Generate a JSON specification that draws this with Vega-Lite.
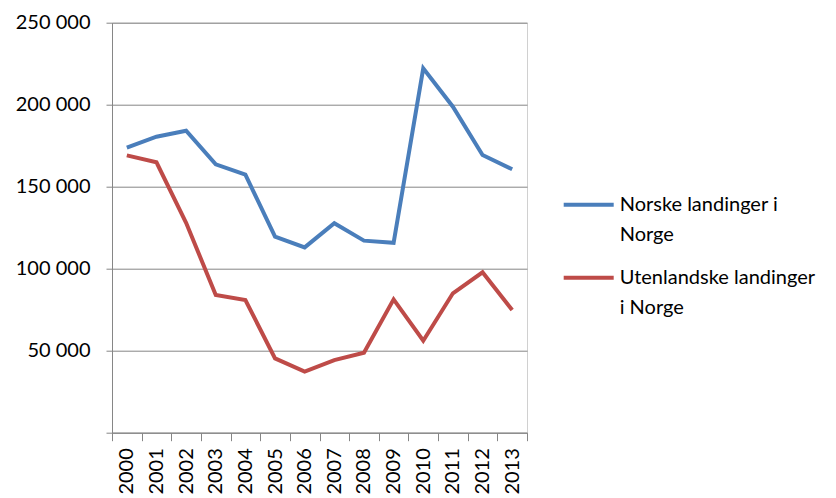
{
  "$schema": "https://vega.github.io/schema/vega-lite/v6.json",
  "autosize": {"type": "none"},
  "padding": {"left": 112, "top": 22.7, "right": 309, "bottom": 65.3},
  "width": 415,
  "height": 410,
  "background": "#ffffff",
  "config": {
    "view": {"stroke": "#d0d0d0", "strokeWidth": 1},
    "font": "Lato",
    "axis": {"labelFont": "Lato", "labelColor": "#000000", "domainColor": "#868686", "tickColor": "#868686", "gridColor": "#868686", "labelFontSize": 20}
  },
  "data": {
    "values": [
      {"year": "2000", "series": "Norske landinger i Norge", "value": 173800},
      {"year": "2001", "series": "Norske landinger i Norge", "value": 180500},
      {"year": "2002", "series": "Norske landinger i Norge", "value": 184100},
      {"year": "2003", "series": "Norske landinger i Norge", "value": 163600},
      {"year": "2004", "series": "Norske landinger i Norge", "value": 157300},
      {"year": "2005", "series": "Norske landinger i Norge", "value": 119500},
      {"year": "2006", "series": "Norske landinger i Norge", "value": 113000},
      {"year": "2007", "series": "Norske landinger i Norge", "value": 127700},
      {"year": "2008", "series": "Norske landinger i Norge", "value": 117100},
      {"year": "2009", "series": "Norske landinger i Norge", "value": 115800},
      {"year": "2010", "series": "Norske landinger i Norge", "value": 222200},
      {"year": "2011", "series": "Norske landinger i Norge", "value": 198800},
      {"year": "2012", "series": "Norske landinger i Norge", "value": 169300},
      {"year": "2013", "series": "Norske landinger i Norge", "value": 160600},
      {"year": "2000", "series": "Utenlandske landinger i Norge", "value": 169100},
      {"year": "2001", "series": "Utenlandske landinger i Norge", "value": 164900},
      {"year": "2002", "series": "Utenlandske landinger i Norge", "value": 128000},
      {"year": "2003", "series": "Utenlandske landinger i Norge", "value": 84000},
      {"year": "2004", "series": "Utenlandske landinger i Norge", "value": 80900},
      {"year": "2005", "series": "Utenlandske landinger i Norge", "value": 45300},
      {"year": "2006", "series": "Utenlandske landinger i Norge", "value": 37200},
      {"year": "2007", "series": "Utenlandske landinger i Norge", "value": 44300},
      {"year": "2008", "series": "Utenlandske landinger i Norge", "value": 48800},
      {"year": "2009", "series": "Utenlandske landinger i Norge", "value": 81300},
      {"year": "2010", "series": "Utenlandske landinger i Norge", "value": 56100},
      {"year": "2011", "series": "Utenlandske landinger i Norge", "value": 85000},
      {"year": "2012", "series": "Utenlandske landinger i Norge", "value": 97800},
      {"year": "2013", "series": "Utenlandske landinger i Norge", "value": 74800}
    ]
  },
  "mark": {"type": "line", "strokeWidth": 4, "strokeJoin": "miter"},
  "encoding": {
    "x": {
      "field": "year", "type": "ordinal", "title": null,
      "scale": {"paddingInner": 0, "paddingOuter": 0},
      "axis": {"labelAngle": -90, "tickBand": "extent", "tickSize": 8, "labelPadding": 7, "grid": false, "domainColor": "#868686"}
    },
    "y": {
      "field": "value", "type": "quantitative", "title": null,
      "scale": {"domain": [0, 250000], "nice": false},
      "axis": {"values": [0, 50000, 100000, 150000, 200000, 250000], "tickSize": 6, "labelPadding": 16,
        "labelExpr": "datum.value == 0 ? '' : replace(format(datum.value, ','), ',', ' ')", "grid": true}
    },
    "color": {
      "field": "series", "type": "nominal", "title": null,
      "scale": {"domain": ["Norske landinger i Norge", "Utenlandske landinger i Norge"], "range": ["#4a7ebb", "#be4b48"]},
      "legend": {
        "orient": "none", "legendX": 449.7, "legendY": 155, "padding": 0,
        "symbolType": "stroke", "symbolSize": 2500, "symbolStrokeWidth": 4,
        "labelFont": "Lato", "labelFontSize": 20, "labelColor": "#000000", "labelLimit": 400, "labelOffset": 4,
        "labelBaseline": "middle", "rowPadding": 6,
        "labelExpr": "datum.label == 'Norske landinger i Norge' ? ['Norske landinger i', 'Norge'] : ['Utenlandske landinger', 'i Norge']",
        "encode": {"labels": {"update": {"lineHeight": {"value": 30}}}}
      }
    }
  }
}
